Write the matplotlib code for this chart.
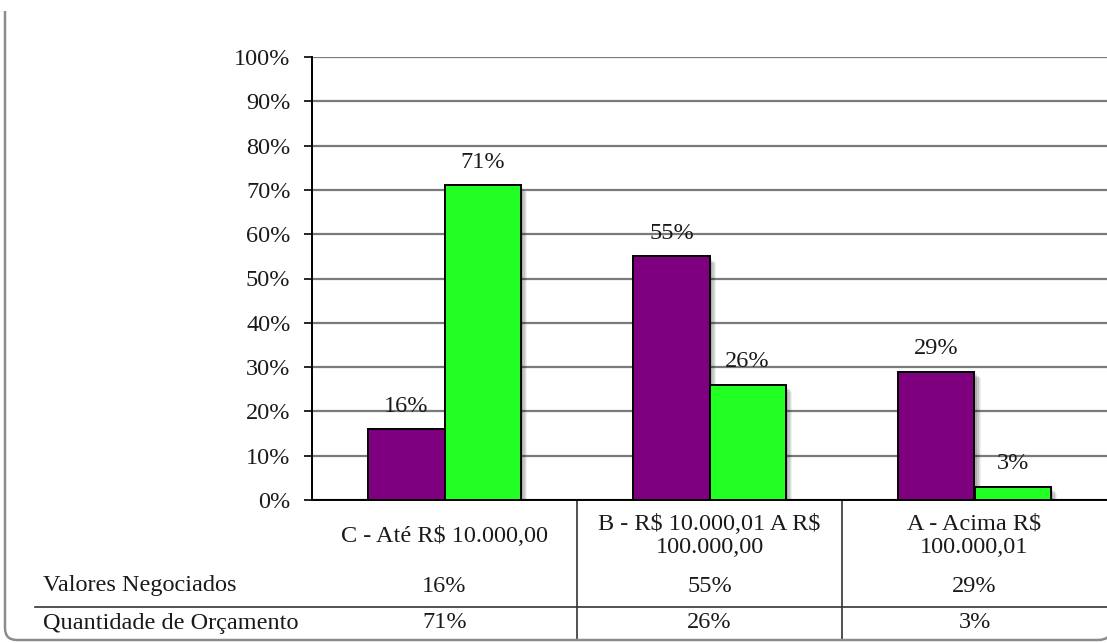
import matplotlib

matplotlib.use("Agg")
import matplotlib.pyplot as plt
import matplotlib.patheffects as pe
import matplotlib.transforms as mtransforms
from matplotlib.patches import PathPatch
from matplotlib.path import Path

plt.rcParams["text.parse_math"] = False  # keep "R$" literal

categories = ["C - Até R$ 10.000,00", "B - R$ 10.000,01 A R$\n100.000,00", "A - Acima R$\n100.000,01"]
series_names = ["Valores Negociados", "Quantidade de Orçamento"]
valores_negociados = [16, 55, 29]
quantidade_orcamento = [71, 26, 3]
y_ticks = [0, 10, 20, 30, 40, 50, 60, 70, 80, 90, 100]

PURPLE = "#7f007f"
GREEN = "#22ff22"
TEXT = "#1a1a1a"
FONT = "Liberation Serif"
FS = 17.5

W, H = 1107, 643
fig = plt.figure(figsize=(W / 100, H / 100), dpi=100)
ax = fig.add_axes([312 / W, 143 / H, (W - 312) / W, 443 / H])


def fy(px):
    """pixel row (from top) -> figure fraction"""
    return (H - px) / H


bar_w = 0.287
xs = list(range(len(categories)))
shadow = [
    pe.SimplePatchShadow(offset=(o, -o), shadow_rgbFace="#000000", alpha=a)
    for o, a in ((5, 0.06), (4, 0.08), (3, 0.10), (2, 0.12))
] + [pe.Normal()]

for vals, color, shift in ((valores_negociados, PURPLE, -0.5), (quantidade_orcamento, GREEN, 0.5)):
    pos = [x + shift * bar_w for x in xs]
    bars = ax.bar(pos, vals, width=bar_w, color=color, edgecolor="black", linewidth=1.4, zorder=3)
    for b in bars:
        b.set_path_effects(shadow)
    for p, v in zip(pos, vals):
        ax.annotate(f"{v}%", (p, v), xytext=(0, 16.5), textcoords="offset points",
                    ha="center", va="center", fontsize=FS, family=FONT, color=TEXT, zorder=4)

ax.set_xlim(-0.5, 2.5)
ax.set_ylim(0, 100)
ax.set_yticks(y_ticks)
ax.set_yticklabels([f"{t}%" for t in y_ticks], fontsize=FS, family=FONT, color=TEXT)
ax.set_xticks([])
ax.yaxis.grid(True, color="#7a7a7a", linewidth=1.6)
ax.set_axisbelow(True)
ax.tick_params(axis="y", direction="out", length=5.5, width=1.2, pad=10, color="black")
for side in ("top", "right"):
    ax.spines[side].set_visible(False)
ax.spines["left"].set_linewidth(1.4)
ax.spines["bottom"].set_linewidth(1.4)

# data table under the plot
blend = mtransforms.blended_transform_factory(ax.transData, fig.transFigure)
for x, cat, v1, v2 in zip(xs, categories, valores_negociados, quantidade_orcamento):
    ax.text(x, fy(536), cat, transform=blend, ha="center", va="center",
            fontsize=FS, family=FONT, color=TEXT, linespacing=1.15)
    ax.text(x, fy(586), f"{v1}%", transform=blend, ha="center", va="center",
            fontsize=FS, family=FONT, color=TEXT)
    ax.text(x, fy(623), f"{v2}%", transform=blend, ha="center", va="center",
            fontsize=FS, family=FONT, color=TEXT)
for xb in (0.5, 1.5):
    ax.plot([xb, xb], [fy(500), fy(640)], transform=blend, color="#333333",
            linewidth=1.2, clip_on=False)
fig.add_artist(plt.Line2D([35 / W, 1], [fy(607), fy(607)], transform=fig.transFigure,
                          color="#333333", linewidth=1.2))
for name, yp in zip(series_names, (585, 623)):
    fig.text(43 / W, fy(yp), name, ha="left", va="center", fontsize=FS, family=FONT, color=TEXT)

# rounded outer border
verts = [(5, 632), (5, 15), (5, 3), (17, 3), (1098, 3), (1112, 3), (1112, 17)]
codes = [Path.MOVETO, Path.LINETO, Path.CURVE3, Path.CURVE3, Path.LINETO, Path.CURVE3, Path.CURVE3]
frame = Path([(x / 100, y / 100) for x, y in verts], codes)
fig.add_artist(PathPatch(frame, transform=fig.dpi_scale_trans, facecolor="none",
                         edgecolor="#8c8c8c", linewidth=1.8))

fig.savefig("out.png", dpi=100)
